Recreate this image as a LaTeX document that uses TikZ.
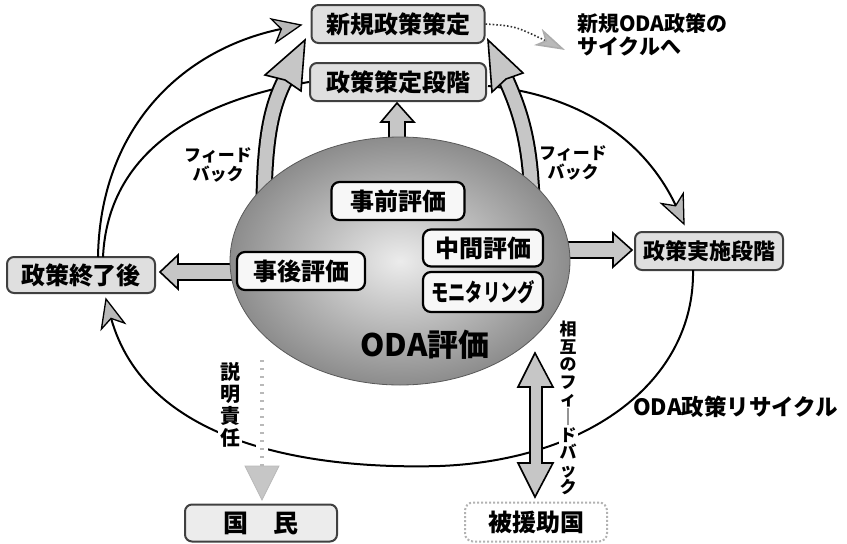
\documentclass[tikz,border=0pt]{standalone}
\usepackage{fontspec}
\setmainfont{Noto Sans CJK JP}
\usetikzlibrary{arrows.meta}
\tikzset{
  stagebox/.style={draw=black!75, line width=2pt, fill=gray!25, rounded corners=7pt, inner sep=0pt, font=\bfseries\fontsize{24}{26}\selectfont},
  evalbox/.style={draw=black, line width=2.2pt, fill=gray!6, rounded corners=8pt, inner sep=0pt, font=\bfseries\fontsize{24}{26}\selectfont},
  cyc/.style={line width=2pt, black},
  headtip/.style={draw=black, line width=1.3pt, fill=gray!55, line join=miter},
  fatarrow/.style={draw=black, line width=1.6pt, fill=gray!45, line join=miter},
  lbl/.style={inner sep=1pt, font=\bfseries\fontsize{21}{23}\selectfont},
  fb/.style={inner sep=1pt, align=center, font=\bfseries\fontsize{17}{19}\selectfont},
}
\begin{document}
\begin{tikzpicture}[x=1pt,y=-1pt]
\useasboundingbox (0,0) rectangle (847,544);

% boxes (nodes)
\node[stagebox, minimum width=173pt, minimum height=38pt] (newp) at (398,24) {新規政策策定};
\node[stagebox, minimum width=176pt, minimum height=38pt] (plan) at (398,82) {政策策定段階};
\node[stagebox, minimum width=148pt, minimum height=36pt] (endp) at (81,275) {政策終了後};
\node[stagebox, minimum width=148pt, minimum height=38pt, font=\bfseries\fontsize{22}{24}\selectfont] (impl) at (709,251) {政策実施段階};
\coordinate (ec) at (400,261);

% cycle lines with explicit heads
\coordinate (tA) at (684,224);
\draw[cyc] (488,86) .. controls (580,95) and (645,140) .. (676,206);
\draw[headtip] (tA) -- (683.2,193.5) -- (675.6,205.8) -- (661.4,203.5) -- cycle;

\coordinate (tB) at (106,299);
\draw[cyc] (693,270) .. controls (695,380) and (590,460) .. (440,466)
   .. controls (300,470) and (145,440) .. (111,318);
\draw[headtip] (tB) -- (124.6,323.1) -- (111.0,318.4) -- (101.4,329.1) -- cycle;

\draw[cyc] (103,257) .. controls (108,150) and (200,100) .. (plan.west);

\coordinate (tD) at (301,25);
\draw[cyc] (98,257) .. controls (100,130) and (180,50) .. (281,29);
\draw[headtip] (tD) -- (276.0,42.4) -- (281.4,29.0) -- (271.2,19.0) -- cycle;

% dotted arrow to next cycle
\draw[line width=1.6pt, black!80, dotted, -{Stealth[length=30pt 0,width=18pt 0,inset=8pt 0,fill=gray!55,color=gray!65]}]
  (newp.east) .. controls (515,26) .. (565,50);

% feedback fat curved arrows
\draw[line width=17pt, black] (264,200) .. controls (265,135) and (272,105) .. (286,78);
\draw[line width=13pt, gray!45] (264,200) .. controls (265,135) and (272,105) .. (286,78);
\draw[fatarrow] (265,75) -- (305,40) -- (301,91) -- (285,80) -- cycle;
\draw[line width=17pt, black] (532,200) .. controls (530,140) and (520,110) .. (504,75);
\draw[line width=13pt, gray!45] (532,200) .. controls (530,140) and (520,110) .. (504,75);
\draw[fatarrow] (492,92) -- (488,40) -- (523,73) -- (506,79) -- cycle;

% straight fat arrows
\draw[fatarrow] (389,150) -- (389,122) -- (381,122) -- (397,103) -- (414,122) -- (405,122) -- (405,150);
\draw[fatarrow] (240,264) -- (178,264) -- (178,255) -- (160,272) -- (178,289) -- (178,280) -- (240,280);
\draw[fatarrow] (560,242) -- (613,242) -- (613,233) -- (632,250) -- (613,267) -- (613,258) -- (560,258);

% ODA evaluation ellipse
\shade[inner color=gray!15, outer color=gray!90] (ec) ellipse [x radius=170pt, y radius=124pt];
\draw[gray!70!black, line width=0.8pt] (ec) ellipse [x radius=170pt, y radius=124pt];

\node[evalbox, minimum width=133pt, minimum height=38pt] (pre) at (398,201) {事前評価};
\node[evalbox, minimum width=128pt, minimum height=38pt] (post) at (301,271) {事後評価};
\node[evalbox, minimum width=120pt, minimum height=37pt] (mid) at (483,248) {中間評価};
\node[evalbox, minimum width=120pt, minimum height=40pt] (mon) at (483,292) {\scalebox{0.72}[1]{モニタリング}};
\node[inner sep=0pt, font=\bfseries\fontsize{31}{33}\selectfont] (oda) at (425,345) {ODA評価};

% accountability
\draw[white, line width=12pt] (262,438) -- (262,462);
\draw[gray!55, line width=4pt, dash pattern=on 2pt off 6pt] (262,360) -- (262,466);
\draw[fill=gray!45, draw=gray!55, line width=0.8pt] (245,466) -- (279,466) -- (262,500) -- cycle;
\node[stagebox, minimum width=152pt, minimum height=37pt, fill=gray!15, font=\bfseries\fontsize{25}{27}\selectfont] (kok) at (261,523) {国　民};
\node[fill=white, inner sep=2pt, align=center, font=\bfseries\fontsize{20}{22}\selectfont] (acc) at (230,405) {説\\明\\責\\任};

% mutual feedback
\draw[fatarrow] (530,387) -- (518,387) -- (535,353) -- (553,387) -- (542,387) -- (542,463) -- (553,463) -- (535,497) -- (518,463) -- (530,463) -- cycle;
\node[draw=gray!60, dotted, line width=2pt, fill=white, rounded corners=8pt, inner sep=0pt, minimum width=142pt, minimum height=39pt, font=\bfseries\fontsize{24}{26}\selectfont] (hien) at (536,522) {被援助国};
\node[fill=white, inner sep=1pt, align=center, font=\bfseries\fontsize{17}{17.6}\selectfont] (mut) at (568,408) {相\\互\\の\\フ\\ィ\\｜\\ド\\バ\\ッ\\ク};

% labels
\node[fb] (fbl) at (218,165) {フィード\\バック};
\node[fb] (fbr) at (573,163) {フィード\\バック};
\node[lbl, anchor=north west, align=left] (nxt) at (576,12) {新規ODA政策の\\サイクルへ};
\node[lbl, anchor=west, font=\bfseries\fontsize{22.5}{24}\selectfont] (rec) at (632,407) {ODA政策リサイクル};
\end{tikzpicture}
\end{document}
